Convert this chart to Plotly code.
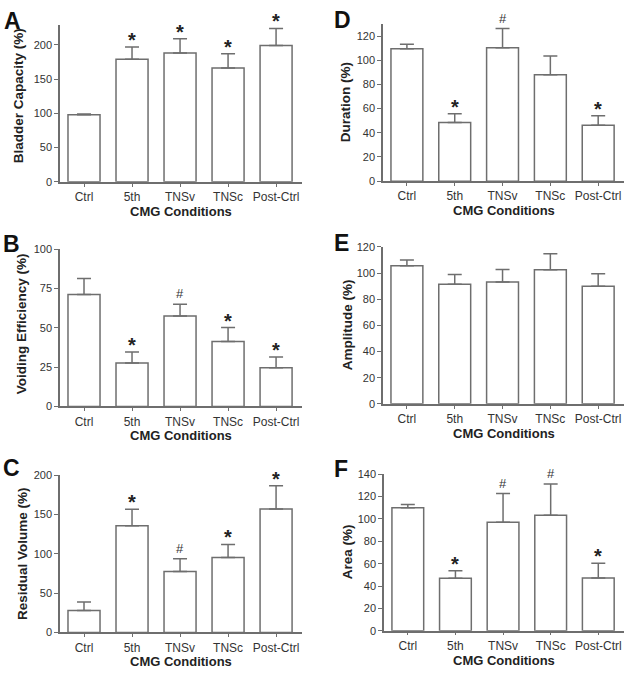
import plotly.graph_objects as go

W, H = 626, 677

categories = ["Ctrl", "5th", "TNSv", "TNSc", "Post-Ctrl"]

A_mean = [98, 179, 188, 166, 199]
A_sem = [1, 18, 21, 21, 25]
A_sig = ["", "*", "*", "*", "*"]

B_mean = [71.3, 27.7, 57.5, 41.3, 24.6]
B_sem = [10.2, 6.9, 7.5, 8.9, 6.9]
B_sig = ["", "*", "#", "*", "*"]

C_mean = [27.9, 135.8, 77.5, 95.4, 157]
C_sem = [10.8, 20.9, 16.2, 16.6, 29.7]
C_sig = ["", "*", "#", "*", "*"]

D_mean = [109.5, 48.6, 110.3, 88.1, 46.2]
D_sem = [3.7, 7.1, 15.9, 15.4, 7.8]
D_sig = ["", "*", "#", "", "*"]

E_mean = [105.7, 91.5, 93.2, 102.5, 90]
E_sem = [4.3, 7.5, 9.6, 12.3, 9.5]
E_sig = ["", "", "", "", ""]

F_mean = [110.1, 46.9, 97, 103.4, 47.2]
F_sem = [2.9, 6.7, 25.7, 27.8, 13.1]
F_sig = ["", "*", "#", "#", "*"]

y_titles = {"A": "Bladder Capacity (%)", "B": "Voiding Efficiency (%)",
            "C": "Residual Volume (%)", "D": "Duration (%)",
            "E": "Amplitude (%)", "F": "Area (%)"}
x_title = "CMG Conditions"

# panel: letter, data, y range/ticks, pixel box [x0, x1, ytop, ybottom],
# y-title centre (x, y) and panel-letter centre (x, y) in pixels
panels = [
    ("A", A_mean, A_sem, A_sig, 229, 50, 200, (60, 302, 19.3, 179), (18, 92), (2, 15)),
    ("D", D_mean, D_sem, D_sig, 130, 20, 120, (383, 624, 18.3, 178.3), (345, 98), (332, 14)),
    ("B", B_mean, B_sem, B_sig, 100, 25, 100, (60, 302, 247.7, 407.7), (21, 324), (1, 242)),
    ("E", E_mean, E_sem, E_sig, 120, 20, 120, (383, 624, 245.3, 405), (347, 325), (332, 241)),
    ("C", C_mean, C_sem, C_sig, 200, 50, 200, (60, 302, 477.7, 637.7), (22, 558), (1, 470)),
    ("F", F_mean, F_sem, F_sig, 140, 20, 140, (384, 624, 476.7, 636), (347, 556), (332, 471)),
]

FONT = "Liberation Sans, Arial, sans-serif"
LINE = "#6e6e6e"
TXT = "#333333"

fig = go.Figure()
annotations = []
layout = {}

for i, (letter, mean, sem, sig, ymax, dtick, tmax, box, tpos, lpos) in enumerate(panels):
    n = i + 1
    xa = "x" if n == 1 else f"x{n}"
    ya = "y" if n == 1 else f"y{n}"
    xkey = "xaxis" if n == 1 else f"xaxis{n}"
    ykey = "yaxis" if n == 1 else f"yaxis{n}"
    x0, x1, yt, yb = box
    fig.add_trace(go.Bar(
        x=categories, y=mean, xaxis=xa, yaxis=ya,
        width=0.667,
        marker=dict(color="white", line=dict(color=LINE, width=1.5)),
        error_y=dict(type="data", array=sem, arrayminus=[0] * len(sem),
                     symmetric=False, color=LINE, thickness=1.5, width=7),
        showlegend=False, hoverinfo="skip",
    ))
    layout[xkey] = dict(
        domain=[x0 / W, x1 / W], anchor=ya, range=[-0.5, 4.54],
        showline=True, linecolor=LINE, linewidth=1.5,
        ticks="outside", ticklen=3, tickcolor=LINE, tickwidth=1,
        showgrid=False, zeroline=False, fixedrange=True,
        tickfont=dict(family=FONT, size=12, color=TXT),
    )
    layout[ykey] = dict(
        domain=[1 - yb / H, 1 - yt / H], anchor=xa, range=[0, ymax],
        tickmode="array", tickvals=list(range(0, tmax + 1, dtick)),
        showline=True, linecolor=LINE, linewidth=1.5, ticks="outside",
        ticklen=4, tickcolor=LINE, tickwidth=1.2,
        showgrid=False, zeroline=False, fixedrange=True,
        tickfont=dict(family=FONT, size=11, color=TXT),
    )
    # significance markers
    for c, m, s, g in zip(categories, mean, sem, sig):
        if not g:
            continue
        if g == "*":
            annotations.append(dict(x=c, y=m + s, xref=xa, yref=ya, text="<b>*</b>",
                                    showarrow=False, yanchor="bottom", yshift=-6,
                                    font=dict(family=FONT, size=20, color="#222")))
        else:
            annotations.append(dict(x=c, y=m + s, xref=xa, yref=ya, text="#",
                                    showarrow=False, yanchor="bottom", yshift=1,
                                    font=dict(family=FONT, size=13, color="#333")))
    # y title
    annotations.append(dict(x=tpos[0] / W, y=1 - tpos[1] / H, xref="paper", yref="paper",
                            text=f"<b>{y_titles[letter]}</b>", textangle=-90,
                            showarrow=False, xanchor="center", yanchor="middle",
                            font=dict(family=FONT, size=13.5, color="#222")))
    # x title
    annotations.append(dict(x=(x0 + x1) / 2 / W, y=1 - (yb + 30) / H, xref="paper", yref="paper",
                            text=f"<b>{x_title}</b>", showarrow=False,
                            xanchor="center", yanchor="middle",
                            font=dict(family=FONT, size=13, color="#222")))
    # panel letter
    annotations.append(dict(x=lpos[0] / W, y=1 - lpos[1] / H,
                            xref="paper", yref="paper",
                            text=f"<b>{letter}</b>", showarrow=False,
                            xanchor="left", yanchor="middle",
                            font=dict(family=FONT, size=23, color="#111")))

fig.update_layout(
    width=W, height=H, margin=dict(l=0, r=0, t=0, b=0),
    paper_bgcolor="white", plot_bgcolor="white",
    annotations=annotations, bargap=0.33, **layout,
)

fig.write_html("out.html", config={"displayModeBar": False},
               post_script="document.body.style.margin='0px';document.body.style.padding='0px';")
